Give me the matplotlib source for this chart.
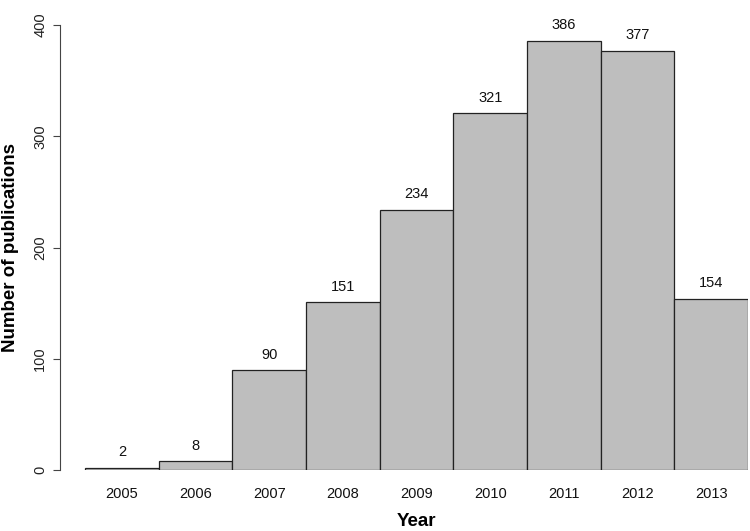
import matplotlib
matplotlib.use("Agg")
import matplotlib.pyplot as plt

years = ["2005", "2006", "2007", "2008", "2009", "2010", "2011", "2012", "2013"]
counts = [2, 8, 90, 151, 234, 321, 386, 377, 154]
yticks = [0, 100, 200, 300, 400]

plt.rcParams['font.family'] = ['Liberation Sans', 'DejaVu Sans']

W, H = 750, 531
fig = plt.figure(figsize=(7.5, 5.31), dpi=100)
ax = fig.add_axes([60 / W, (H - 470) / H, 688 / W, 445 / H])

x = list(range(len(years)))
ax.bar(x, counts, width=1.0, color='#BEBEBE', edgecolor='#222222', linewidth=0.9, zorder=2)

px_per_unit = (748 - 85) / 9
ax.set_xlim(-0.5 - 25 / px_per_unit, 8.5)
ax.set_ylim(0, 400)

for xi, c in zip(x, counts):
    ax.annotate(str(c), (xi, c), xytext=(0, 11), textcoords='offset points',
                ha='center', va='center', fontsize=10.5, color='#111111',
                annotation_clip=False)

for s in ['top', 'right', 'bottom']:
    ax.spines[s].set_visible(False)
ax.spines['left'].set_color('#444444')
ax.spines['left'].set_linewidth(0.8)
ax.spines['left'].set_bounds(0, 400)

ax.set_yticks(yticks)
ax.set_yticklabels([str(t) for t in yticks], rotation=90, va='center', fontsize=10.5, color='#222222')
ax.tick_params(axis='y', length=5.2, width=0.8, color='#444444', pad=4)

ax.set_xticks(x)
ax.set_xticklabels(years, fontsize=10.5, color='#111111')
ax.tick_params(axis='x', length=0, pad=12)

fig.text(11 / W, 1 - 247 / H, "Number of publications", rotation=90, ha='center', va='center',
         fontsize=13.5, fontweight='bold')
fig.text(416 / W, 1 - 526 / H, "Year", ha='center', va='baseline', fontsize=13.5, fontweight='bold')

fig.savefig("out.png", dpi=100, facecolor='white')
